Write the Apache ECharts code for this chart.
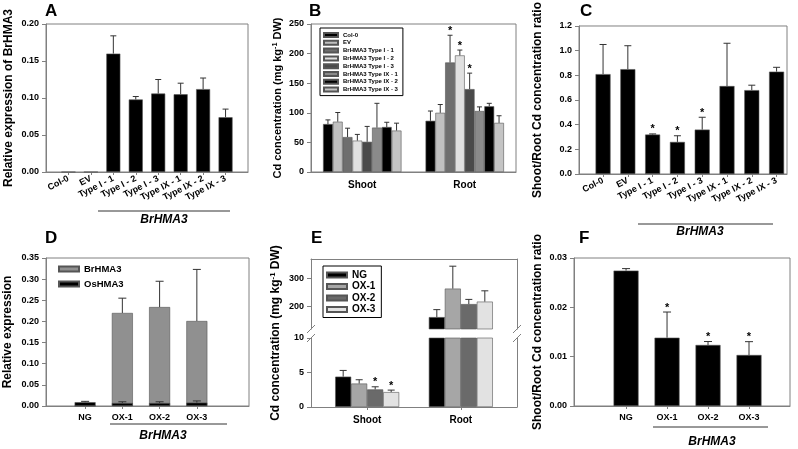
<!DOCTYPE html>
<html><head><meta charset="utf-8">
<script src="https://cdn.jsdelivr.net/npm/echarts@6/dist/echarts.min.js"></script>
<style>html,body{margin:0;padding:0;background:#fff}#c{width:798px;height:449px}</style>
</head><body><div id="c"></div>
<script>
// ---------------- DATA ----------------
// Panel A
const catsA = ['Col-0', 'EV', 'Type I - 1', 'Type I - 2', 'Type I - 3', 'Type IX - 1', 'Type IX - 2', 'Type IX - 3'];
const exprA = [0, 0, 0.160, 0.098, 0.106, 0.105, 0.112, 0.074];
const exprErrA = [0, 0, 0.024, 0.004, 0.019, 0.015, 0.015, 0.011];
// Panel B
const tissuesB = ['Shoot', 'Root'];
const linesB = ['Col-0', 'EV', 'BrHMA3 Type I - 1', 'BrHMA3 Type I - 2', 'BrHMA3 Type I - 3', 'BrHMA3 Type IX - 1', 'BrHMA3 Type IX - 2', 'BrHMA3 Type IX - 3'];
const shootB = [81, 85, 59, 53, 51, 75, 76, 70];
const shootErrB = [7, 15.5, 15, 10.5, 26, 41, 8, 12.5];
const rootB = [86.5, 100, 185, 197, 140, 103, 111, 83];
const rootErrB = [16.5, 14, 46, 9, 27, 7, 5, 12];
const sigRootB = [0, 0, 1, 1, 1, 0, 0, 0];
// Panel C
const catsC = ['Col-0', 'EV', 'Type I - 1', 'Type I - 2', 'Type I - 3', 'Type IX - 1', 'Type IX - 2', 'Type IX - 3'];
const ratioC = [0.81, 0.85, 0.32, 0.26, 0.36, 0.713, 0.68, 0.83];
const ratioErrC = [0.24, 0.19, 0.005, 0.05, 0.10, 0.347, 0.04, 0.035];
const sigC = [0, 0, 1, 1, 1, 0, 0, 0];
// Panel D
const catsD = ['NG', 'OX-1', 'OX-2', 'OX-3'];
const genesD = ['BrHMA3', 'OsHMA3'];
const brD = [0, 0.220, 0.234, 0.201];
const brErrD = [0, 0.035, 0.061, 0.122];
const osD = [0.009, 0.007, 0.007, 0.008];
const osErrD = [0.002, 0.003, 0.003, 0.004];
// Panel E
const tissuesE = ['Shoot', 'Root'];
const linesE = ['NG', 'OX-1', 'OX-2', 'OX-3'];
const shootE = [4.4, 3.4, 2.55, 2.16];
const shootErrE = [0.9, 0.55, 0.38, 0.29];
const rootE = [161, 264, 208, 217];
const rootErrE = [27, 81, 17, 39];
const sigShootE = [0, 0, 1, 1];
const upperTicksE = [200, 300];
// Panel F
const catsF = ['NG', 'OX-1', 'OX-2', 'OX-3'];
const ratioF = [0.02745, 0.01385, 0.01237, 0.01034];
const ratioErrF = [0.0004, 0.0052, 0.0007, 0.0027];
const sigF = [0, 1, 1, 1];

// ---------------- STYLE ----------------
const FONT = 'Liberation Sans';
const AX = '#808080';
const colorsB = ['#000000', '#c0c0c0', '#6e6e6e', '#e0e0e0', '#4a4a4a', '#8a8a8a', '#000000', '#c4c4c4'];
const colorsE = ['#000000', '#a6a6a6', '#6a6a6a', '#e2e2e2'];
const colorsD = ['#909090', '#000000'];
const barBorder = { borderColor: '#555', borderWidth: 0.6 };

function valX(gi, min, max, cats, rotate, margin) {
  const idx = cats.map((_, i) => i);
  return {
    type: 'value', gridIndex: gi, min, max, splitLine: { show: false },
    axisLine: { show: true, onZero: false, lineStyle: { color: AX } },
    axisTick: { show: true, length: 3, customValues: idx, lineStyle: { color: AX } },
    axisLabel: { show: true, customValues: idx, formatter: v => cats[Math.round(v)] || '', rotate: rotate || 0,
      fontSize: 9, fontWeight: 'bold', color: '#000', fontFamily: FONT, margin: margin || 6 }
  };
}
function valY(gi, min, max, interval, dec, name, nameGap, nameSize) {
  return {
    type: 'value', gridIndex: gi, min, max, interval, splitLine: { show: false },
    axisLine: { show: true, onZero: false, lineStyle: { color: AX } },
    axisTick: { show: true, length: 4, lineStyle: { color: AX } },
    axisLabel: { formatter: v => v.toFixed(dec), fontSize: 9, fontWeight: 'bold', color: '#000', fontFamily: FONT, margin: 7 },
    name, nameLocation: 'middle', nameGap,
    nameTextStyle: { fontSize: nameSize || 12, fontWeight: 'bold', color: '#000', fontFamily: FONT }
  };
}
function errSeries(xi, yi, data, offsetPx, capHalf, starSize) {
  return {
    type: 'custom', xAxisIndex: xi, yAxisIndex: yi, clip: true, z: 5, silent: true,
    data, encode: { x: 0, y: 1 },
    renderItem(params, api) {
      const x = api.value(0), v = api.value(1), e = api.value(2), s = api.value(3);
      const base = api.coord([x, v]);
      const top = api.coord([x, v + e]);
      const cx = base[0] + offsetPx;
      const ch = [];
      if (e > 0) {
        ch.push({ type: 'line', shape: { x1: cx, y1: base[1], x2: cx, y2: top[1] }, style: { stroke: '#333', lineWidth: 1 } });
        ch.push({ type: 'line', shape: { x1: cx - capHalf, y1: top[1], x2: cx + capHalf, y2: top[1] }, style: { stroke: '#333', lineWidth: 1 } });
      }
      if (s) ch.push({ type: 'text', x: cx, y: top[1] + 1, style: { text: '*', fill: '#000', font: 'bold ' + starSize + 'px ' + FONT, align: 'center', verticalAlign: 'bottom' } });
      return { type: 'group', children: ch };
    }
  };
}
const gridBox = { show: true, borderColor: AX, borderWidth: 1, backgroundColor: 'transparent' };

// ---------------- AXES ----------------
const xAxis = [
  valX(0, -1, 8, catsA, 27, 6),
  { type: 'category', gridIndex: 1, data: tissuesB,
    axisLine: { onZero: false, lineStyle: { color: AX } }, axisTick: { alignWithLabel: true, length: 3, lineStyle: { color: AX } },
    axisLabel: { fontSize: 10, fontWeight: 'bold', color: '#000', fontFamily: FONT, margin: 8 } },
  valX(2, -0.97, 7.42, catsC, 27, 6),
  valX(3, -1.05, 4.4, catsD, 0, 7),
  Object.assign(valX(4, -0.6, 1.6, tissuesE, 0, 7), { position: 'top', axisTick: { show: false }, axisLabel: { show: false } }),
  valX(5, -0.6, 1.6, tissuesE, 0, 8),
  { type: 'value', gridIndex: 6, show: false },
  valX(7, -1.27, 4, catsF, 0, 7)
];
xAxis[5].axisLabel.fontSize = 10;

const yAxis = [
  valY(0, 0, 0.20, 0.05, 2, 'Relative expression of BrHMA3', 31),
  valY(1, 0, 250, 50, 0, '{a|Cd concentration (mg kg}{s|-1}{a| DW)}', 27, 11),
  valY(2, 0, 1.2, 0.2, 1, 'Shoot/Root Cd concentration ratio', 35),
  valY(3, 0, 0.35, 0.05, 2, 'Relative expression', 32),
  // E upper left
  { type: 'value', gridIndex: 4, min: 118, max: 371, splitLine: { show: false },
    axisLine: { show: true, onZero: false, lineStyle: { color: AX } },
    axisTick: { show: true, length: 4, customValues: upperTicksE, lineStyle: { color: AX } },
    axisLabel: { customValues: upperTicksE, fontSize: 9, fontWeight: 'bold', color: '#000', fontFamily: FONT, margin: 7 } },
  // E upper right
  { type: 'value', gridIndex: 4, position: 'right', min: 118, max: 371, splitLine: { show: false },
    axisLine: { show: true, onZero: false, lineStyle: { color: AX } }, axisTick: { show: false }, axisLabel: { show: false } },
  // E lower left
  valY(5, 0, 10, 5, 0, '', 0),
  // E lower right
  { type: 'value', gridIndex: 5, position: 'right', min: 0, max: 10, splitLine: { show: false },
    axisLine: { show: true, onZero: false, lineStyle: { color: AX } }, axisTick: { show: false }, axisLabel: { show: false } },
  // E name holder
  { type: 'value', gridIndex: 6, min: 0, max: 1, axisLine: { show: false }, axisTick: { show: false }, axisLabel: { show: false }, splitLine: { show: false },
    name: '{a|Cd concentration (mg kg}{s|-1}{a| DW)}', nameLocation: 'middle', nameGap: 29,
    nameTextStyle: { fontSize: 12, fontWeight: 'bold', color: '#000', fontFamily: FONT } },
  valY(7, 0, 0.03, 0.01, 2, 'Shoot/Root Cd concentration ratio', 30)
];
const richName = (fs) => ({
  a: { fontSize: fs, fontWeight: 'bold', color: '#000', fontFamily: FONT },
  s: { fontSize: fs * 0.65, fontWeight: 'bold', color: '#000', fontFamily: FONT, verticalAlign: 'top', padding: [0, 0, 5, 0] }
});
yAxis[1].nameTextStyle.rich = richName(11);
yAxis[8].nameTextStyle.rich = richName(12);

// ---------------- SERIES ----------------
const series = [];
// A
series.push({ type: 'bar', name: 'exprA', xAxisIndex: 0, yAxisIndex: 0, barWidth: 14,
  data: exprA.map((v, i) => [i, v]), itemStyle: Object.assign({ color: '#000' }, barBorder) });
series.push(errSeries(0, 0, exprA.map((v, i) => [i, v, exprErrA[i], 0]), 0, 3, 11));
// B
const bwB = 9.8;
linesB.forEach((name, j) => {
  series.push({ type: 'bar', name, xAxisIndex: 1, yAxisIndex: 1, barWidth: bwB, barGap: '0%',
    data: [shootB[j], rootB[j]], itemStyle: Object.assign({ color: colorsB[j] }, barBorder) });
});
linesB.forEach((name, j) => {
  series.push(errSeries(1, 1, [[0, shootB[j], shootErrB[j], 0], [1, rootB[j], rootErrB[j], sigRootB[j]]], (j - 3.5) * bwB, 2.5, 11));
});
// C
series.push({ type: 'bar', name: 'ratioC', xAxisIndex: 2, yAxisIndex: 2, barWidth: 15,
  data: ratioC.map((v, i) => [i, v]), itemStyle: Object.assign({ color: '#000' }, barBorder) });
series.push(errSeries(2, 2, ratioC.map((v, i) => [i, v, ratioErrC[i], sigC[i]]), 0, 3.5, 11));
// D
series.push({ type: 'bar', name: genesD[0], xAxisIndex: 3, yAxisIndex: 3, barWidth: 21, barGap: '-100%',
  data: brD.map((v, i) => [i, v]), itemStyle: Object.assign({ color: colorsD[0] }, barBorder) });
series.push({ type: 'bar', name: genesD[1], xAxisIndex: 3, yAxisIndex: 3, barWidth: 21, barGap: '-100%',
  data: osD.map((v, i) => [i, v]), itemStyle: Object.assign({ color: colorsD[1] }, barBorder) });
series.push(errSeries(3, 3, brD.map((v, i) => [i, v, brErrD[i], 0]), 0, 4, 11));
series.push(errSeries(3, 3, osD.map((v, i) => [i, v, osErrD[i], 0]), 0, 4, 11));
// E (upper and lower segments share the same data, clipped by each axis range)
const bwE = 16;
[[4, 4], [5, 6]].forEach(([xi, yi]) => {
  linesE.forEach((name, j) => {
    series.push({ type: 'bar', name, xAxisIndex: xi, yAxisIndex: yi, barWidth: bwE, barGap: '0%', clip: true,
      data: [[0, shootE[j]], [1, rootE[j]]], itemStyle: Object.assign({ color: colorsE[j] }, barBorder) });
  });
  linesE.forEach((name, j) => {
    series.push(errSeries(xi, yi, [[0, shootE[j], shootErrE[j], sigShootE[j]], [1, rootE[j], rootErrE[j], 0]], (j - 1.5) * bwE, 3.5, 11));
  });
});
// F
series.push({ type: 'bar', name: 'ratioF', xAxisIndex: 7, yAxisIndex: 9, barWidth: 25,
  data: ratioF.map((v, i) => [i, v]), itemStyle: Object.assign({ color: '#000' }, barBorder) });
series.push(errSeries(7, 9, ratioF.map((v, i) => [i, v, ratioErrF[i], sigF[i]]), 0, 4, 11));

// ---------------- LAYOUT ----------------
const titleStyle = { fontSize: 17, fontWeight: 'bold', color: '#000', fontFamily: FONT };
const mkTitle = (t, l, tp) => ({ text: t, left: l, top: tp, padding: 0, textStyle: titleStyle });
const italic = 'italic bold 12px ' + FONT;
const underline = (x1, x2, y, tx, ty) => [
  { type: 'line', shape: { x1, y1: y, x2, y2: y }, style: { stroke: '#333', lineWidth: 1 }, silent: true },
  { type: 'text', x: tx, y: ty, style: { text: 'BrHMA3', font: italic, fill: '#000', align: 'center', verticalAlign: 'middle' }, silent: true }
];
const slash = (x, y) => ({ type: 'line', shape: { x1: x - 4, y1: y + 4, x2: x + 4, y2: y - 4 }, style: { stroke: AX, lineWidth: 1 }, silent: true });

const option = {
  backgroundColor: '#fff',
  animation: false,
  textStyle: { fontFamily: FONT },
  title: [mkTitle('A', 45, 3), mkTitle('B', 309, 3), mkTitle('C', 580, 3), mkTitle('D', 45, 230), mkTitle('E', 311, 230), mkTitle('F', 579, 230)],
  grid: [
    Object.assign({ left: 46, top: 24, width: 202, height: 148 }, gridBox),
    Object.assign({ left: 311, top: 24, width: 205, height: 148 }, gridBox),
    Object.assign({ left: 579, top: 24, width: 208, height: 150 }, gridBox),
    Object.assign({ left: 46, top: 258, width: 203, height: 148 }, gridBox),
    { left: 311, top: 259, width: 206, height: 70 },
    { left: 311, top: 338, width: 206, height: 69 },
    { left: 311, top: 259, width: 206, height: 148 },
    Object.assign({ left: 574, top: 258, width: 216, height: 148 }, gridBox)
  ],
  xAxis, yAxis, series,
  legend: [
    { data: linesB, left: 320, top: 28, orient: 'vertical', itemWidth: 14, itemHeight: 4, itemGap: 1.8,
      padding: [4, 5, 3, 3], borderColor: '#000', borderWidth: 1, icon: 'rect', selectedMode: false,
      textStyle: { fontSize: 6, fontWeight: 'bold', color: '#000', fontFamily: FONT } },
    { data: genesD, left: 58, top: 264, orient: 'vertical', itemWidth: 20, itemHeight: 5, itemGap: 5,
      padding: 0, icon: 'rect', selectedMode: false,
      textStyle: { fontSize: 9.5, fontWeight: 'bold', color: '#000', fontFamily: FONT } },
    { data: linesE, left: 323, top: 266, orient: 'vertical', itemWidth: 20, itemHeight: 5, itemGap: 1.5,
      padding: [4, 6, 3, 3], borderColor: '#000', borderWidth: 1, icon: 'rect', selectedMode: false,
      textStyle: { fontSize: 10, fontWeight: 'bold', color: '#000', fontFamily: FONT } }
  ],
  graphic: [].concat(
    underline(98, 230, 211, 164, 220),
    underline(638, 773, 224, 700, 232),
    underline(110, 227, 424, 163, 436),
    underline(653, 768, 427, 712, 442),
    [slash(311, 329), slash(311, 338), slash(517, 329), slash(517, 338)]
  )
};
const chart = echarts.init(document.getElementById('c'), null, { renderer: 'canvas' });
chart.setOption(option);
</script>
</body></html>
